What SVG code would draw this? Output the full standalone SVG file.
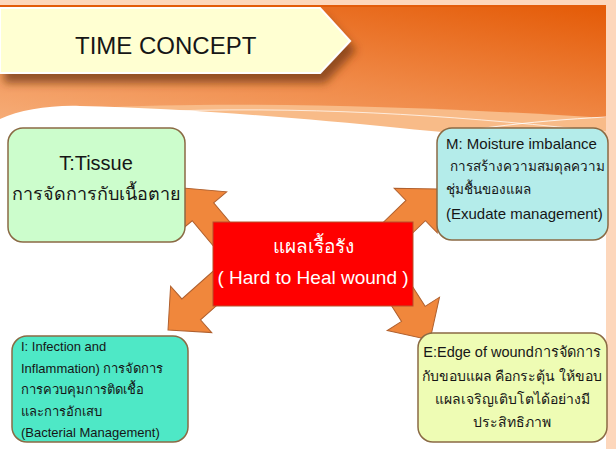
<svg xmlns="http://www.w3.org/2000/svg" width="616" height="449" viewBox="0 0 616 449">
<style>
.t{font-family:"Liberation Sans","Noto Sans",sans-serif;fill:#161616}
.box{stroke:#8a6a44;stroke-width:1.5}
.arr{fill:#f0873c;stroke:#b0602e;stroke-width:1;stroke-linejoin:miter}
</style>
<defs>
<linearGradient id="bg" x1="1" y1="0" x2="0.3" y2="1">
<stop offset="0" stop-color="#e45a06"/>
<stop offset="0.55" stop-color="#f08a48"/>
<stop offset="1" stop-color="#f6ad78"/>
</linearGradient>
<filter id="sh" x="-10%" y="-20%" width="130%" height="160%">
<feDropShadow dx="5" dy="9" stdDeviation="4" flood-color="#6a3008" flood-opacity="0.7"/>
</filter>
<polygon id="ar" points="0,0 -31,-31 -31,-14 -76,-14 -76,14 -31,14 -31,31"/>
</defs>
<rect width="616" height="449" fill="#fdd7bc"/>
<rect x="0" y="5" width="606" height="444" fill="#ffffff"/>
<rect x="0" y="5" width="606" height="150" fill="url(#bg)"/>
<rect x="0" y="5" width="606" height="2" fill="#e35c0a"/>
<path d="M90,108 C250,100 450,108 606,118 V160 H90 Z" fill="#f8bb88"/>
<path d="M0,119 C20,110 50,105 80,106 C180,108 300,118 400,128 C480,136 560,140 606,144 L606,449 L0,449 Z" fill="#ffffff"/>
<path d="M170,111 C330,106 480,118 606,132" fill="none" stroke="#ffffff" stroke-opacity="0.7" stroke-width="1"/>
<path d="M390,146 C450,130 530,121 606,117" fill="none" stroke="#ffffff" stroke-opacity="0.8" stroke-width="1"/>
<g id="title">
<polygon points="0,8 320,8 350,41 320,73 0,73" fill="#ffffd2" stroke="#ffffff" stroke-width="2" filter="url(#sh)"/>
<text class="t" x="75" y="54" font-size="24">TIME CONCEPT</text>
</g>
<g id="connectors">
<use href="#ar" class="arr" transform="translate(183,188) rotate(-130)"/>
<use href="#ar" class="arr" transform="translate(438,189) rotate(-44)"/>
<use href="#ar" class="arr" transform="translate(168,330) rotate(138.4)"/>
<use href="#ar" class="arr" transform="translate(430,340) rotate(57.5)"/>
</g>
<g id="center">
<rect x="213" y="222" width="200" height="84" fill="#ff0000" stroke="#b8502a" stroke-width="1"/>
<text class="t" x="313" y="253" font-size="19" text-anchor="middle" style="fill:#ffffff">แผลเรื้อรัง</text>
<text class="t" x="313" y="284" font-size="19" text-anchor="middle" style="fill:#ffffff">( Hard to Heal wound )</text>
</g>
<g id="tissue">
<rect class="box" x="8" y="128" width="177" height="114" rx="15" fill="#ccfdcc"/>
<text class="t" x="96" y="170" font-size="20" text-anchor="middle">T:Tissue</text>
<text class="t" x="96" y="200" font-size="18" text-anchor="middle">การจัดการกับเนื้อตาย</text>
</g>
<g id="moisture">
<rect class="box" x="437" y="128" width="171" height="112" rx="15" fill="#b4ecea"/>
<text class="t" x="446" y="149" font-size="15">M: Moisture imbalance</text>
<text class="t" x="450" y="171" font-size="13.5">การสร้างความสมดุลความ</text>
<text class="t" x="446" y="194" font-size="13.5">ชุ่มชื้นของแผล</text>
<text class="t" x="446" y="219" font-size="15">(Exudate management)</text>
</g>
<g id="infection">
<rect class="box" x="12" y="336" width="176" height="106" rx="15" fill="#4ee8c6"/>
<text class="t" x="21" y="351" font-size="13">I: Infection and</text>
<text class="t" x="21" y="373" font-size="13">Inflammation) การจัดการ</text>
<text class="t" x="21" y="394" font-size="13">การควบคุมการติดเชื้อ</text>
<text class="t" x="21" y="416" font-size="13">และการอักเสบ</text>
<text class="t" x="21" y="437" font-size="13">(Bacterial Management)</text>
</g>
<g id="edge">
<rect class="box" x="418" y="333" width="189" height="109" rx="15" fill="#eefcb4"/>
<text class="t" x="512" y="357" font-size="14.5" text-anchor="middle">E:Edge of woundการจัดการ</text>
<text class="t" x="512" y="381" font-size="14" text-anchor="middle">กับขอบแผล คือกระตุ้น ให้ขอบ</text>
<text class="t" x="512" y="404" font-size="14" text-anchor="middle">แผลเจริญเติบโตได้อย่างมี</text>
<text class="t" x="512" y="427" font-size="14" text-anchor="middle">ประสิทธิภาพ</text>
</g>
</svg>
